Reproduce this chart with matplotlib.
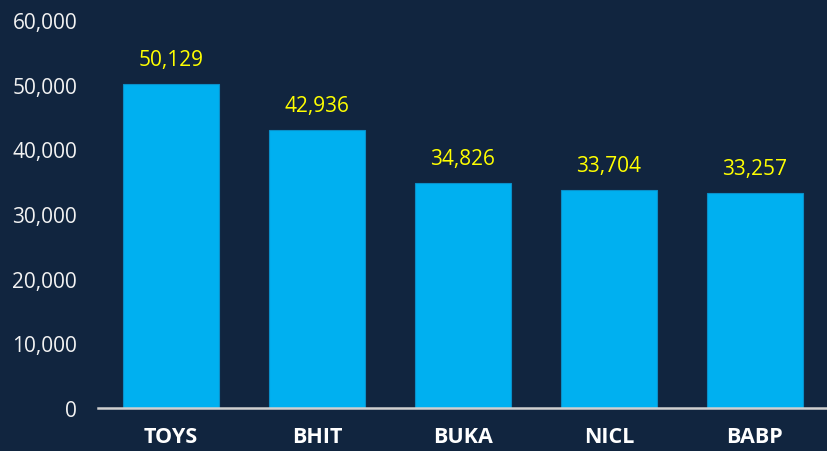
import matplotlib
matplotlib.use("Agg")
import matplotlib.pyplot as plt

plt.rcParams["font.family"] = ["Open Sans", "DejaVu Sans"]

categories = ["TOYS", "BHIT", "BUKA", "NICL", "BABP"]
values = [50129, 42936, 34826, 33704, 33257]
yticks = [0, 10000, 20000, 30000, 40000, 50000, 60000]

BG = "#11253f"
BAR = "#00b0f0"

fig = plt.figure(figsize=(8.28, 4.52), dpi=100, facecolor=BG)
ax = fig.add_axes([98 / 828, 1 - 409 / 452, 1 - 98 / 828, (409 - 21) / 452])
ax.set_facecolor(BG)

x = range(len(categories))
bars = ax.bar(x, values, width=0.66, color=BAR, edgecolor="#0a8fc8", linewidth=0.8, zorder=2)
for b, v in zip(bars, values):
    ax.annotate(f"{v:,}", (b.get_x() + b.get_width() / 2, v), xytext=(0, 10),
                textcoords="offset points", ha="center", va="bottom",
                color="#ffff00", fontsize=15)

ax.set_xlim(-0.5, 4.5)
ax.set_ylim(0, 60000)
ax.set_yticks(yticks)
ax.set_yticklabels([f"{t:,}" for t in yticks])
ax.set_xticks(list(x))
ax.set_xticklabels(categories, fontweight="bold")
ax.tick_params(axis="y", length=0, colors="#f2f2f2", labelsize=15, pad=15)
ax.tick_params(axis="x", length=0, colors="white", labelsize=15.5, pad=13)

for s in ["top", "right", "left"]:
    ax.spines[s].set_visible(False)
ax.spines["bottom"].set_color("#d0d0d0")
ax.spines["bottom"].set_linewidth(1.8)

fig.savefig("out.png", dpi=100, facecolor=BG)
